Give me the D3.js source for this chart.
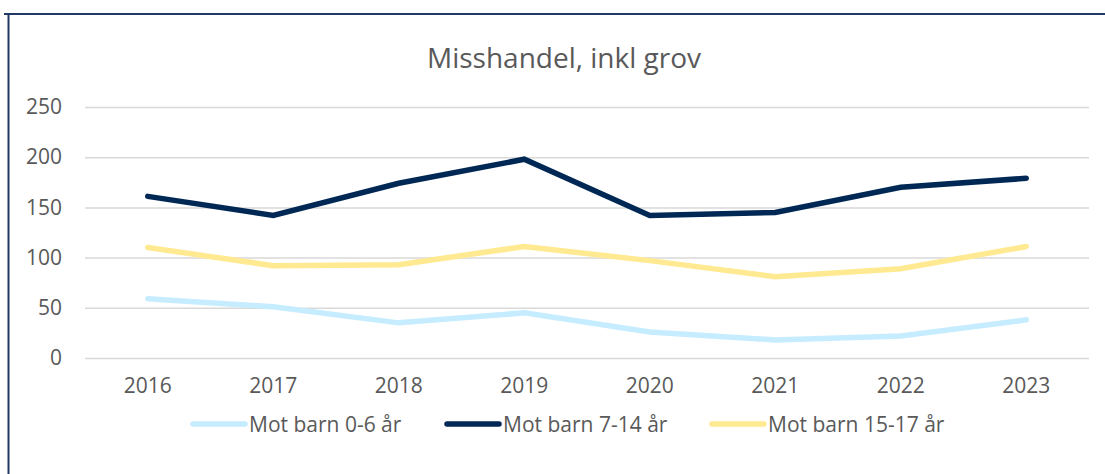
<!DOCTYPE html>
<html>
<head>
<meta charset="utf-8">
<script src="https://cdn.jsdelivr.net/npm/d3@7"></script>
<style>
  body { margin: 0; background: #fff; }
  svg { display: block; font-family: "Open Sans", sans-serif; }
</style>
</head>
<body>
<svg id="chart" width="1105" height="474"></svg>
<script>
// data
const years = ["2016", "2017", "2018", "2019", "2020", "2021", "2022", "2023"];
const barn0_6 = [59, 51, 35, 45, 26, 18, 22, 38];
const barn7_14 = [161, 142, 174, 198, 142, 145, 170, 179];
const barn15_17 = [110, 92, 93, 111, 97, 81, 89, 111];
const seriesNames = ["Mot barn 0-6 år", "Mot barn 7-14 år", "Mot barn 15-17 år"];
const yTicks = [0, 50, 100, 150, 200, 250];

const series = [
    { name: seriesNames[0], values: barn0_6, color: "#c6ecff" },
    { name: seriesNames[1], values: barn7_14, color: "#002855" },
    { name: seriesNames[2], values: barn15_17, color: "#ffe991" }
];

const svg = d3.select("#chart");
const textColor = "#595959";

// frame (only top + left edges show in the picture)
svg.append("line")
    .attr("x1", 4).attr("x2", 1105).attr("y1", 14).attr("y2", 14)
    .attr("stroke", "#1f3864").attr("stroke-width", 2);
svg.append("line")
    .attr("x1", 8.5).attr("x2", 8.5).attr("y1", 14).attr("y2", 474)
    .attr("stroke", "#1f3864").attr("stroke-width", 2);

const x = d3.scaleBand()
    .domain(years)
    .range([85, 1089])
    .padding(0);

const y = d3.scaleLinear()
    .domain([0, 250])
    .range([358, 107]);

// title
svg.append("text")
    .attr("x", 564)
    .attr("y", 68)
    .attr("text-anchor", "middle")
    .attr("font-size", 28)
    .attr("fill", textColor)
    .text("Misshandel, inkl grov");

// gridlines + y labels
const yAxis = svg.append("g")
    .attr("transform", "translate(85,0)")
    .call(d3.axisLeft(y)
        .tickValues(yTicks)
        .tickSize(-(1089 - 85))
        .tickPadding(23));
yAxis.select(".domain").remove();
yAxis.selectAll(".tick line")
    .attr("stroke", "#d9d9d9")
    .attr("stroke-width", 1.5);
yAxis.selectAll(".tick text")
    .attr("font-size", 21)
    .attr("font-family", "Open Sans")
    .attr("fill", textColor);

// x labels
const xAxis = svg.append("g")
    .attr("transform", "translate(0,358)")
    .call(d3.axisBottom(x).tickSize(0).tickPadding(20));
xAxis.select(".domain").remove();
xAxis.selectAll(".tick text")
    .attr("font-size", 21)
    .attr("font-family", "Open Sans")
    .attr("fill", textColor);

// lines
const line = d3.line()
    .x((d, i) => x(years[i]) + x.bandwidth() / 2)
    .y(d => y(d));

svg.selectAll(".series")
    .data(series)
    .enter()
    .append("path")
    .attr("class", "series")
    .attr("d", d => line(d.values))
    .attr("fill", "none")
    .attr("stroke", d => d.color)
    .attr("stroke-width", 5.5)
    .attr("stroke-linejoin", "miter")
    .attr("stroke-linecap", "round");

// legend
const legendX = [191, 445, 710];
const legend = svg.selectAll(".legend")
    .data(series)
    .enter()
    .append("g")
    .attr("class", "legend")
    .attr("transform", (d, i) => "translate(" + legendX[i] + ",424)");

legend.append("line")
    .attr("x1", 2).attr("x2", 54)
    .attr("y1", 0).attr("y2", 0)
    .attr("stroke", d => d.color)
    .attr("stroke-width", 5.5)
    .attr("stroke-linecap", "round");

legend.append("text")
    .attr("x", 58)
    .attr("y", 7.5)
    .attr("font-size", 21)
    .attr("fill", textColor)
    .text(d => d.name);
</script>
</body>
</html>
